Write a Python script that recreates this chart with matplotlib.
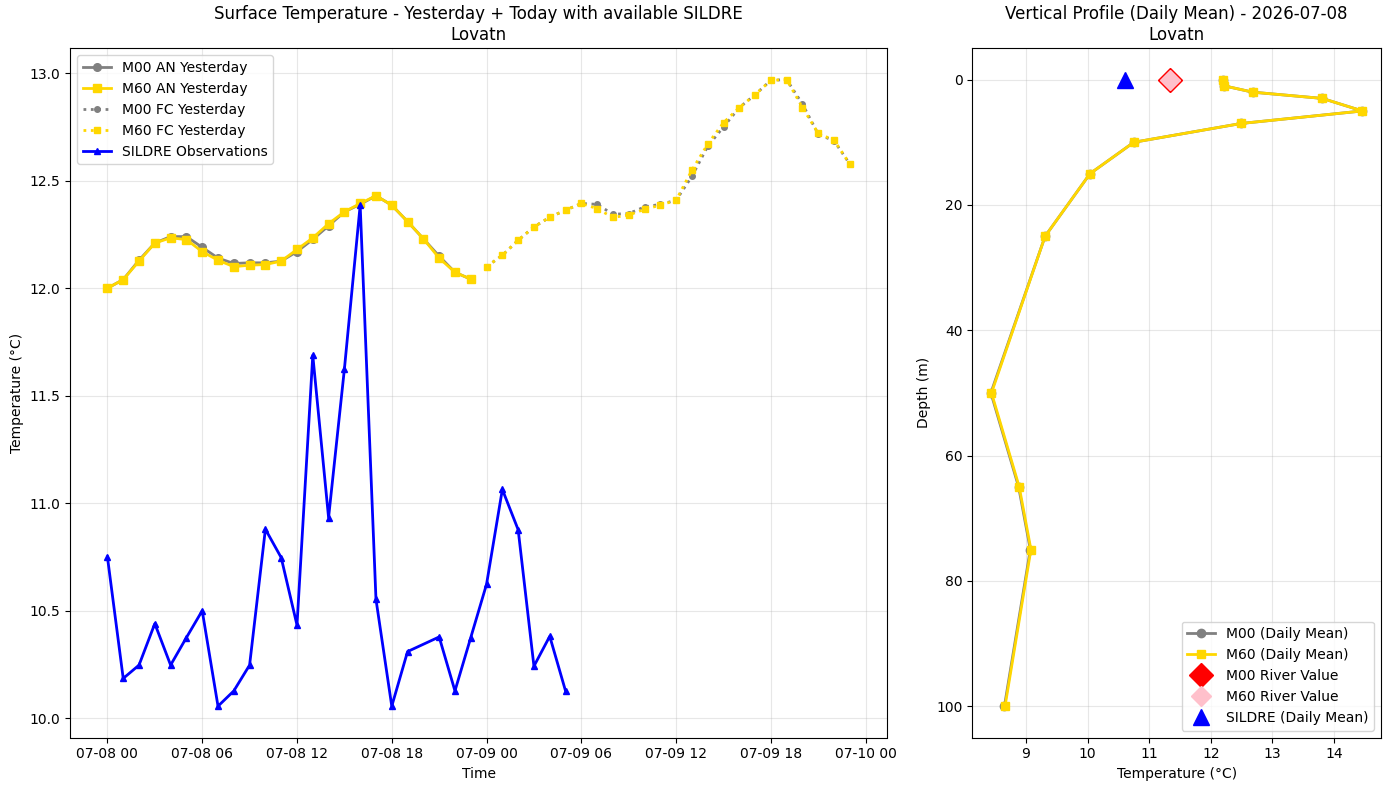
import numpy as np
import pandas as pd
import matplotlib
matplotlib.use("Agg")
import matplotlib.pyplot as plt
import matplotlib.dates as mdates

# ---- Data ----
an_times = pd.date_range("2026-07-08 00:00", periods=24, freq="h")
fc_times = pd.date_range("2026-07-09 00:00", periods=24, freq="h")

m00_an = [12.00, 12.04, 12.13, 12.21, 12.24, 12.24, 12.19, 12.14, 12.115, 12.118, 12.118, 12.126,
          12.17, 12.227, 12.29, 12.355, 12.39, 12.43, 12.386, 12.31, 12.23, 12.149, 12.074, 12.042]
m60_an = [12.00, 12.04, 12.126, 12.21, 12.234, 12.226, 12.17, 12.13, 12.10, 12.107, 12.11, 12.126,
          12.18, 12.234, 12.30, 12.355, 12.394, 12.43, 12.386, 12.31, 12.23, 12.14, 12.074, 12.042]

m00_fc = [12.10, 12.153, 12.223, 12.285, 12.33, 12.363, 12.394, 12.39, 12.344, 12.347, 12.378, 12.39,
          12.409, 12.52, 12.66, 12.75, 12.84, 12.90, 12.967, 12.97, 12.856, 12.716, 12.685, 12.577]
m60_fc = [12.10, 12.153, 12.223, 12.285, 12.33, 12.363, 12.394, 12.37, 12.329, 12.34, 12.367, 12.386,
          12.409, 12.549, 12.67, 12.77, 12.84, 12.90, 12.967, 12.97, 12.84, 12.72, 12.688, 12.577]

sildre_times = pd.to_datetime([
    "2026-07-08 00:00", "2026-07-08 01:00", "2026-07-08 02:00", "2026-07-08 03:00",
    "2026-07-08 04:00", "2026-07-08 05:00", "2026-07-08 06:00", "2026-07-08 07:00",
    "2026-07-08 08:00", "2026-07-08 09:00", "2026-07-08 10:00", "2026-07-08 11:00",
    "2026-07-08 12:00", "2026-07-08 13:00", "2026-07-08 14:00", "2026-07-08 15:00",
    "2026-07-08 16:00", "2026-07-08 17:00", "2026-07-08 18:00", "2026-07-08 19:00",
    "2026-07-08 21:00", "2026-07-08 22:00", "2026-07-08 23:00", "2026-07-09 00:00",
    "2026-07-09 01:00", "2026-07-09 02:00", "2026-07-09 03:00", "2026-07-09 04:00",
    "2026-07-09 05:00"])
sildre_vals = [10.75, 10.185, 10.247, 10.44, 10.247, 10.375, 10.50, 10.056,
               10.127, 10.247, 10.879, 10.747, 10.433, 11.688, 10.933, 11.623,
               12.386, 10.553, 10.056, 10.31, 10.378, 10.127, 10.375, 10.623,
               11.064, 10.877, 10.242, 10.381, 10.127]

depths = [0, 1, 2, 3, 5, 7, 10, 15, 25, 50, 65, 75, 100]
m00_profile = [12.20, 12.22, 12.68, 13.81, 14.46, 12.49, 10.75, 10.04, 9.31, 8.43, 8.88, 9.07, 8.65]
m60_profile = [12.20, 12.22, 12.68, 13.81, 14.46, 12.49, 10.75, 10.04, 9.31, 8.44, 8.89, 9.08, 8.66]

m00_river = 11.34
m60_river = 11.34
sildre_mean = 10.61

# ---- Figure ----
W, H = 1389, 790
fig = plt.figure(figsize=(W / 100, H / 100), dpi=100)
ax1 = fig.add_axes([70.3 / W, 1 - 737.5 / H, (887 - 70.3) / W, (737.5 - 48.3) / H])
ax2 = fig.add_axes([972.3 / W, 1 - 737.5 / H, (1381 - 972.3) / W, (737.5 - 48.3) / H])

ax1.plot(an_times, m00_an, color="gray", marker="o", linestyle="-", linewidth=2, markersize=5.5,
         label="M00 AN Yesterday")
ax1.plot(an_times, m60_an, color="gold", marker="s", linestyle="-", linewidth=2, markersize=5.5,
         label="M60 AN Yesterday")
ax1.plot(fc_times, m00_fc, color="gray", marker="o", linestyle=":", linewidth=2, markersize=4,
         label="M00 FC Yesterday")
ax1.plot(fc_times, m60_fc, color="gold", marker="s", linestyle=":", linewidth=2, markersize=4,
         label="M60 FC Yesterday")
ax1.plot(sildre_times, sildre_vals, color="blue", marker="^", linestyle="-", linewidth=2,
         markersize=5, label="SILDRE Observations")

ax1.set_title("Surface Temperature - Yesterday + Today with available SILDRE\nLovatn")
ax1.set_xlabel("Time")
ax1.set_ylabel("Temperature (°C)")
ax1.grid(True, alpha=0.3)
ax1.legend(loc="upper left")
ax1.xaxis.set_major_locator(mdates.HourLocator(byhour=[0, 6, 12, 18]))
ax1.xaxis.set_major_formatter(mdates.DateFormatter("%m-%d %H"))

ax2.plot(m00_profile, depths, color="gray", marker="o", linestyle="-", linewidth=2, markersize=6,
         label="M00 (Daily Mean)")
ax2.plot(m60_profile, depths, color="gold", marker="s", linestyle="-", linewidth=2, markersize=6,
         label="M60 (Daily Mean)")
ax2.plot([m00_river], [0], color="red", marker="D", linestyle="none", markersize=12,
         label="M00 River Value")
ax2.plot([m60_river], [0], color="pink", marker="D", linestyle="none", markersize=10,
         label="M60 River Value")
ax2.plot([sildre_mean], [0], color="blue", marker="^", linestyle="none", markersize=11,
         label="SILDRE (Daily Mean)")
ax2.invert_yaxis()
ax2.set_title("Vertical Profile (Daily Mean) - 2026-07-08\nLovatn")
ax2.set_xlabel("Temperature (°C)")
ax2.set_ylabel("Depth (m)")
ax2.grid(True, alpha=0.3)
ax2.legend(loc="lower right")

fig.savefig("out.png", dpi=100)
